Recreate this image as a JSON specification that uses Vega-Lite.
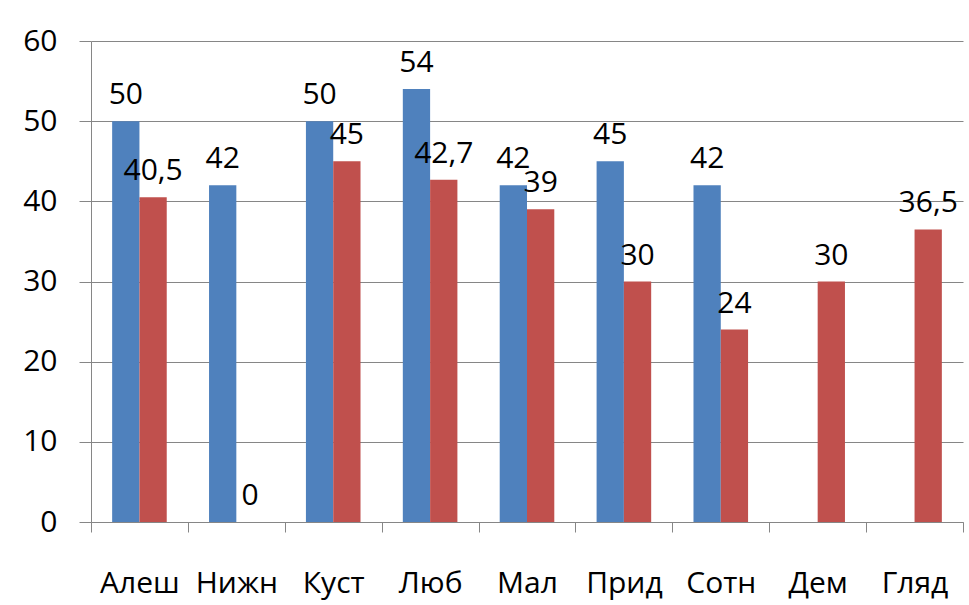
{
  "$schema": "https://vega.github.io/schema/vega-lite/v6.json",
  "autosize": {"type": "none"},
  "width": 872,
  "height": 481,
  "padding": {"left": 91, "top": 41, "right": 6, "bottom": 83},
  "background": "white",
  "config": {
    "view": {"stroke": null},
    "font": "Open Sans",
    "locale": {"number": {"decimal": ",", "thousands": " ", "grouping": [3], "currency": ["", ""]}}
  },
  "data": {
    "values": [
      {"place": "Алеш", "series": "Ряд1", "value": 50},
      {"place": "Алеш", "series": "Ряд2", "value": 40.5},
      {"place": "Нижн", "series": "Ряд1", "value": 42},
      {"place": "Нижн", "series": "Ряд2", "value": 0},
      {"place": "Куст", "series": "Ряд1", "value": 50},
      {"place": "Куст", "series": "Ряд2", "value": 45},
      {"place": "Люб", "series": "Ряд1", "value": 54},
      {"place": "Люб", "series": "Ряд2", "value": 42.7},
      {"place": "Мал", "series": "Ряд1", "value": 42},
      {"place": "Мал", "series": "Ряд2", "value": 39},
      {"place": "Прид", "series": "Ряд1", "value": 45},
      {"place": "Прид", "series": "Ряд2", "value": 30},
      {"place": "Сотн", "series": "Ряд1", "value": 42},
      {"place": "Сотн", "series": "Ряд2", "value": 24},
      {"place": "Дем", "series": "Ряд2", "value": 30},
      {"place": "Гляд", "series": "Ряд2", "value": 36.5}
    ]
  },
  "encoding": {
    "x": {
      "field": "place", "type": "nominal", "sort": null,
      "scale": {"paddingInner": 0, "paddingOuter": 0},
      "axis": {
        "title": null, "labelAngle": 0, "labelFontSize": 30, "labelColor": "black",
        "labelBaseline": "alphabetic", "labelPadding": 60,
        "tickBand": "extent", "tickSize": 10, "tickColor": "#868686",
        "domainColor": "#868686", "grid": false
      }
    },
    "xOffset": {
      "field": "series", "type": "nominal",
      "scale": {"paddingInner": 0, "paddingOuter": 0.775}
    },
    "y": {
      "field": "value", "type": "quantitative",
      "scale": {"domain": [0, 60], "nice": false},
      "axis": {
        "title": null, "values": [0, 10, 20, 30, 40, 50, 60],
        "labelFontSize": 30, "labelColor": "black", "labelPadding": 22,
        "tickSize": 12, "tickColor": "#868686", "domainColor": "#868686",
        "grid": true, "gridColor": "#868686", "gridWidth": 1
      }
    }
  },
  "layer": [
    {
      "mark": {"type": "bar"},
      "encoding": {
        "color": {
          "field": "series", "type": "nominal", "legend": null,
          "scale": {"domain": ["Ряд1", "Ряд2"], "range": ["#4F81BD", "#C0504D"]}
        }
      }
    },
    {
      "mark": {"type": "text", "fontSize": 30, "baseline": "alphabetic", "dy": -17, "color": "black"},
      "encoding": {
        "text": {"field": "value", "type": "quantitative", "format": "~r"}
      }
    }
  ]
}
